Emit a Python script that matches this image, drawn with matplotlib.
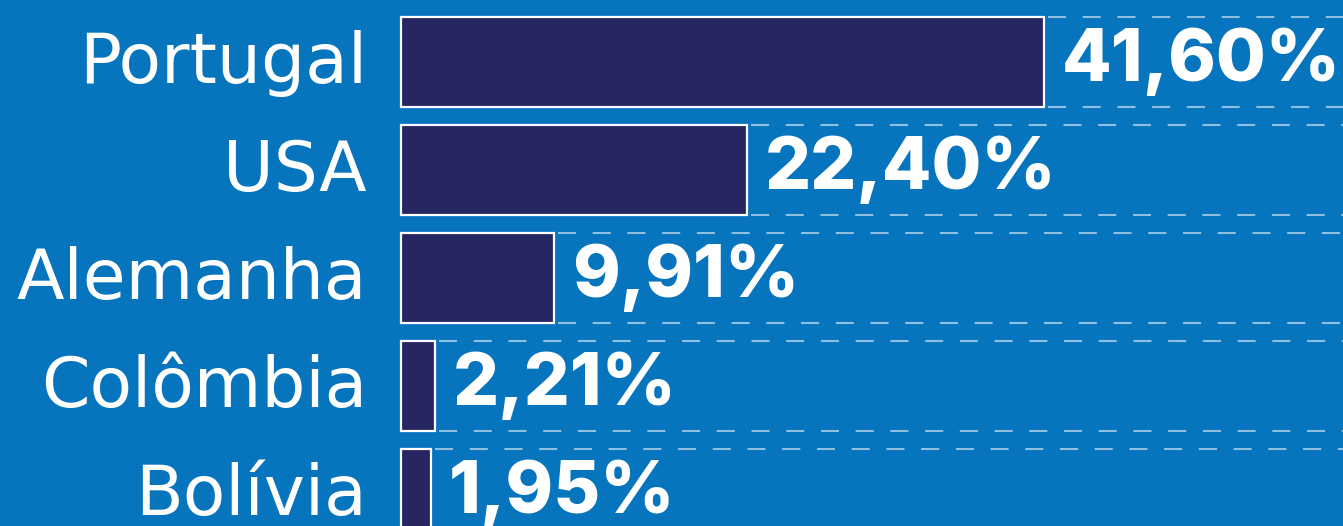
import matplotlib
matplotlib.use("Agg")
import matplotlib.pyplot as plt

countries = ["Portugal", "USA", "Alemanha", "Colômbia", "Bolívia"]
shares = [41.60, 22.40, 9.91, 2.21, 1.95]
share_labels = ["41,60%", "22,40%", "9,91%", "2,21%", "1,95%"]

BG = "#0775BD"
BAR = "#262660"
plt.rcParams["lines.scale_dashes"] = False

fig = plt.figure(figsize=(13.43, 5.26), dpi=100, facecolor=BG)
ax = fig.add_axes([0, 0, 1, 1])
ax.set_facecolor(BG)

px = 15.46  # pixels per percentage point
ax.set_xlim(-401 / px, (1343 - 401) / px)
ax.set_ylim((526 - 62) / 108, -62 / 108)
ax.axis("off")

h = 90 / 108
ys = list(range(len(countries)))
ax.barh(ys, shares, height=h, color=BAR, edgecolor="white", linewidth=1.6, zorder=3)

xmax = (1343 - 401) / px
for y, v in zip(ys, shares):
    for yy in (y - h / 2, y + h / 2):
        ax.hlines(yy, v + 0.25, xmax, colors="white", alpha=0.55, linewidth=1.5,
                  linestyles=(0, (13, 12)), zorder=2)

for y, name, v, lab in zip(ys, countries, shares, share_labels):
    ax.text(-2.2, y + 0.01, name, ha="right", va="center", color="white",
            fontsize=50, family="DejaVu Sans", fontweight="normal")
    ax.text(v + 1.15, y - 0.0, lab, ha="left", va="center", color="white",
            fontsize=52, family="Inter", fontweight=800)

fig.savefig("out.png", dpi=100, facecolor=BG)
